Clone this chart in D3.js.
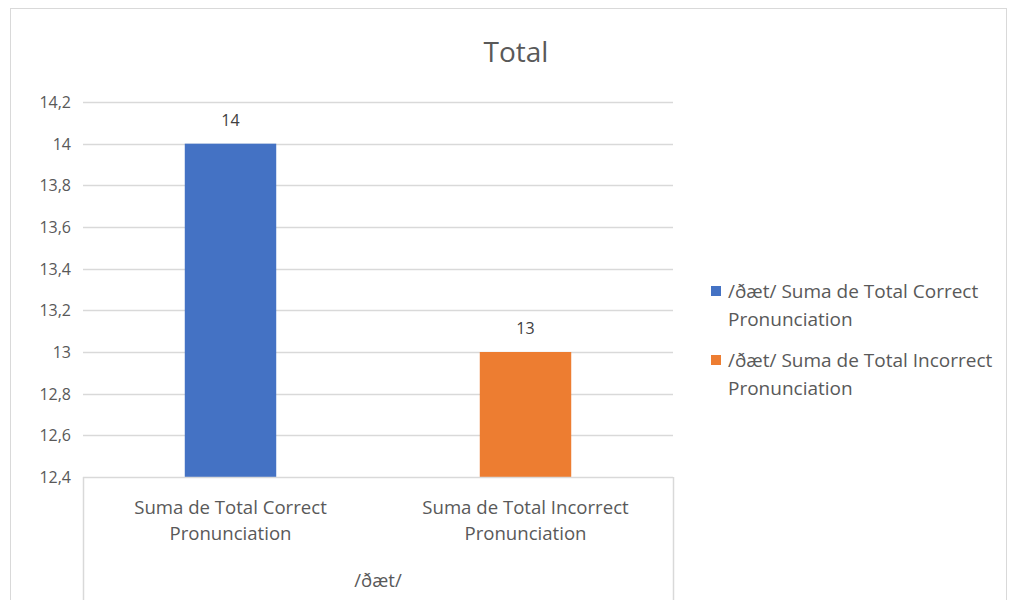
<!DOCTYPE html>
<html lang="es">
<head>
<meta charset="utf-8">
<title>Total</title>
<script src="https://cdn.jsdelivr.net/npm/d3@7"></script>
<style>
  body { margin: 0; background: #fff; }
  text { font-family: "Open Sans", sans-serif; fill: #595959; }
</style>
</head>
<body>
<script>
// data
var group = "/ðæt/";
var categories = ["Suma de Total Correct Pronunciation", "Suma de Total Incorrect Pronunciation"];
var catLines = [["Suma de Total Correct", "Pronunciation"], ["Suma de Total Incorrect", "Pronunciation"]];
var values = [14, 13];
var colors = ["#4472c4", "#ed7d31"];
var legendLines = [["/ðæt/ Suma de Total Correct", "Pronunciation"], ["/ðæt/ Suma de Total Incorrect", "Pronunciation"]];
var yTicks = [12.4, 12.6, 12.8, 13, 13.2, 13.4, 13.6, 13.8, 14, 14.2];

var w = 1013, h = 600;
var plotLeft = 83, plotRight = 673, plotTop = 102, plotBottom = 477;

var svg = d3.select("body").append("svg")
  .attr("width", w).attr("height", h);

// outer frame
svg.append("rect")
  .attr("x", 10.5).attr("y", 8.5)
  .attr("width", 996).attr("height", 620)
  .attr("fill", "none").attr("stroke", "#d9d9d9");

var x = d3.scaleBand().domain(categories).range([plotLeft, plotRight]).paddingInner(0).paddingOuter(0);
var y = d3.scaleLinear().domain([12.4, 14.2]).range([plotBottom, plotTop]);

// gridlines
svg.append("g").selectAll("line")
  .data(yTicks.slice(1))
  .enter().append("line")
  .attr("x1", plotLeft).attr("x2", plotRight)
  .attr("y1", function(d) { return Math.round(y(d)) + 0.5; })
  .attr("y2", function(d) { return Math.round(y(d)) + 0.5; })
  .attr("stroke", "#d9d9d9").attr("stroke-width", 1.5);

// y labels
svg.append("g").selectAll("text")
  .data(yTicks)
  .enter().append("text")
  .attr("x", 71)
  .attr("y", function(d) { return y(d) + 6; })
  .attr("text-anchor", "end")
  .style("font-size", "16px")
  .text(function(d) { return String(d).replace(".", ","); });

// bars
var bw = x.bandwidth() * 0.31;
svg.append("g").selectAll("rect")
  .data(values)
  .enter().append("rect")
  .attr("x", function(d, i) { return x(categories[i]) + x.bandwidth() / 2 - bw / 2; })
  .attr("y", function(d) { return y(d); })
  .attr("width", bw)
  .attr("height", function(d) { return y(12.4) - y(d); })
  .attr("fill", function(d, i) { return colors[i]; });

// value labels
svg.append("g").selectAll("text")
  .data(values)
  .enter().append("text")
  .attr("x", function(d, i) { return x(categories[i]) + x.bandwidth() / 2; })
  .attr("y", function(d) { return y(d) - 18; })
  .attr("text-anchor", "middle")
  .style("font-size", "16px")
  .style("fill", "#404040")
  .text(function(d) { return d; });

// category axis box
var axis = svg.append("g").attr("stroke", "#d9d9d9").attr("stroke-width", 1.5);
axis.append("line").attr("x1", plotLeft).attr("x2", plotRight).attr("y1", plotBottom + 0.5).attr("y2", plotBottom + 0.5);
axis.append("line").attr("x1", plotLeft + 0.5).attr("x2", plotLeft + 0.5).attr("y1", plotBottom).attr("y2", h);
axis.append("line").attr("x1", plotRight + 0.5).attr("x2", plotRight + 0.5).attr("y1", plotBottom).attr("y2", h);

categories.forEach(function(c, i) {
  var cx = x(c) + x.bandwidth() / 2;
  var t = svg.append("text")
    .attr("x", cx)
    .attr("y", 514)
    .attr("text-anchor", "middle")
    .style("font-size", "18.6px");
  catLines[i].forEach(function(line, j) {
    t.append("tspan").attr("x", cx).attr("dy", j === 0 ? 0 : 26).text(line);
  });
});

svg.append("text")
  .attr("x", (plotLeft + plotRight) / 2).attr("y", 587)
  .attr("text-anchor", "middle")
  .style("font-size", "18.6px")
  .text(group);

// title
svg.append("text")
  .attr("x", 516).attr("y", 62)
  .attr("text-anchor", "middle")
  .style("font-size", "28px")
  .text("Total");

// legend
var leg = svg.append("g");
legendLines.forEach(function(lines, i) {
  var ly = 291 + i * 69;
  leg.append("rect")
    .attr("x", 711).attr("y", ly - 5)
    .attr("width", 10).attr("height", 10)
    .attr("fill", colors[i]);
  var t = leg.append("text")
    .attr("x", 728).attr("y", ly + 7)
    .style("font-size", "19px");
  lines.forEach(function(line, j) {
    t.append("tspan").attr("x", 728).attr("dy", j === 0 ? 0 : 28).text(line);
  });
});
</script>
</body>
</html>
